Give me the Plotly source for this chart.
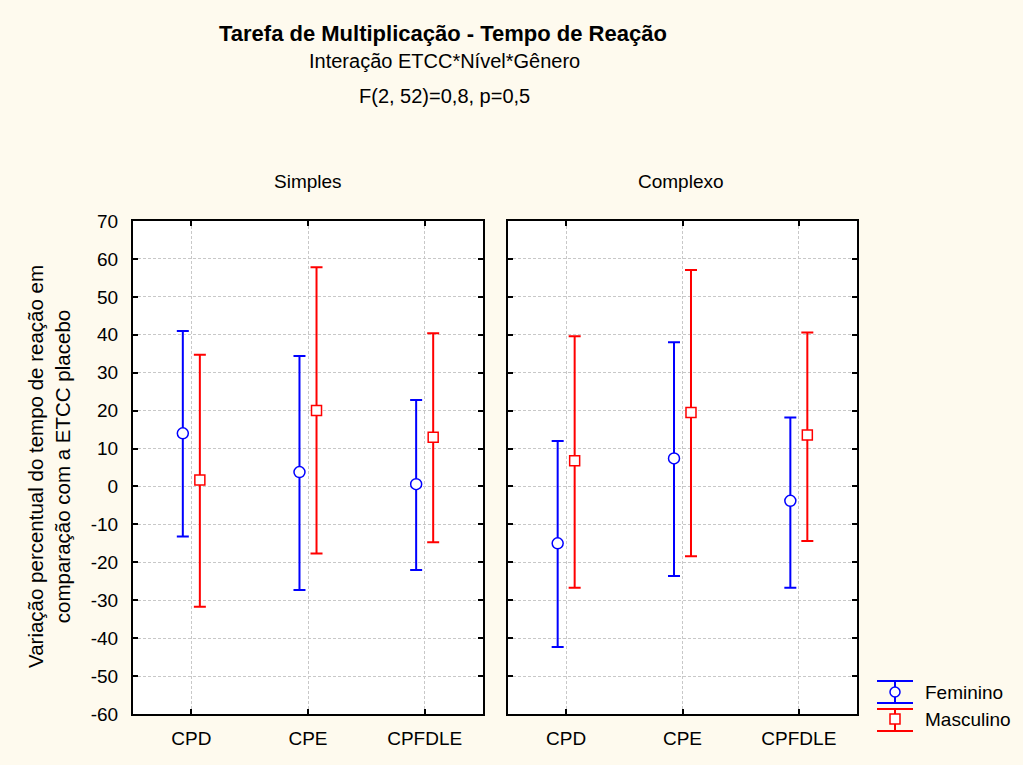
import plotly.graph_objects as go

categories = ["CPD", "CPE", "CPFDLE"]
levels = ["Simples", "Complexo"]

# Simples
simples_fem_mean = [14.0, 3.8, 0.6]
simples_fem_upper = [41.0, 34.4, 22.8]
simples_fem_lower = [-13.2, -27.3, -22.0]
simples_mas_mean = [1.7, 20.0, 13.0]
simples_mas_upper = [34.7, 57.8, 40.4]
simples_mas_lower = [-31.7, -17.7, -14.7]

# Complexo
complexo_fem_mean = [-15.0, 7.4, -3.8]
complexo_fem_upper = [12.0, 38.0, 18.2]
complexo_fem_lower = [-42.3, -23.6, -26.7]
complexo_mas_mean = [6.8, 19.5, 13.6]
complexo_mas_upper = [39.6, 57.1, 40.6]
complexo_mas_lower = [-26.7, -18.4, -14.4]

y_ticks = [-60, -50, -40, -30, -20, -10, 0, 10, 20, 30, 40, 50, 60, 70]
y_tick_labels = ["-60", "-50", "-40", "-30", "-20", "-10", "0",
                 "10", "20", "30", "40", "50", "60", "70"]

W, H = 1023, 765
L, R, T, B = 133, 857, 221, 714
PW, PH = R - L, B - T

BLUE = "#0000FF"
RED = "#FF0000"
BG = "#FEFAEE"
FONT = "Liberation Sans, Arial, sans-serif"

def px(x):
    return (x - L) / PW

def py(y):
    return (B - y) / PH

fig = go.Figure()

panels = [
    ("x", "y", simples_fem_mean, simples_fem_upper, simples_fem_lower,
     simples_mas_mean, simples_mas_upper, simples_mas_lower),
    ("x2", "y2", complexo_fem_mean, complexo_fem_upper, complexo_fem_lower,
     complexo_mas_mean, complexo_mas_upper, complexo_mas_lower),
]

off = 0.073
for xa, ya, fm, fu, fl, mm, mu, ml in panels:
    xs = list(range(len(categories)))
    fig.add_trace(go.Scatter(
        x=[i - off for i in xs], y=fm, xaxis=xa, yaxis=ya, mode="markers",
        name="Feminino", showlegend=False,
        marker=dict(symbol="circle", size=11, color="white",
                    line=dict(color=BLUE, width=1.5)),
        error_y=dict(type="data", symmetric=False,
                     array=[u - m for u, m in zip(fu, fm)],
                     arrayminus=[m - l for l, m in zip(fl, fm)],
                     color=BLUE, thickness=2, width=6),
    ))
    fig.add_trace(go.Scatter(
        x=[i + off for i in xs], y=mm, xaxis=xa, yaxis=ya, mode="markers",
        name="Masculino", showlegend=False,
        marker=dict(symbol="square", size=10, color="white",
                    line=dict(color=RED, width=1.5)),
        error_y=dict(type="data", symmetric=False,
                     array=[u - m for u, m in zip(mu, mm)],
                     arrayminus=[m - l for l, m in zip(ml, mm)],
                     color=RED, thickness=2, width=6),
    ))

d1 = [0, (483 - L) / PW]
d2 = [(508 - L) / PW, 1]

GRID = "#C8C8C8"
xcommon = dict(
    range=[-0.5, 2.5], tickmode="array", tickvals=[0, 1, 2], ticktext=categories,
    ticks="inside", ticklen=5, tickwidth=2, tickcolor="black",
    showline=True, linecolor="black", linewidth=2, mirror="ticks",
    showgrid=True, gridcolor=GRID, griddash="3px,2px", gridwidth=1,
    zeroline=False, tickfont=dict(family=FONT, size=19, color="black"),
    ticklabelstandoff=6,
)
ycommon = dict(
    range=[-60, 70], tickmode="array", tickvals=y_ticks, ticktext=y_tick_labels,
    ticks="inside", ticklen=5, tickwidth=2, tickcolor="black",
    showline=True, linecolor="black", linewidth=2, mirror="ticks",
    showgrid=True, gridcolor=GRID, griddash="3px,2px", gridwidth=1,
    zeroline=False, tickfont=dict(family=FONT, size=19, color="black"),
    ticklabelstandoff=9,
)

fig.update_layout(
    width=W, height=H,
    margin=dict(l=L, r=W - R, t=T, b=H - B),
    paper_bgcolor=BG, plot_bgcolor="white",
    showlegend=False,
    xaxis=dict(domain=d1, **xcommon),
    xaxis2=dict(domain=d2, anchor="y2", **xcommon),
    yaxis=dict(anchor="x", **ycommon),
    yaxis2=dict(anchor="x2", matches="y", showticklabels=False, **ycommon),
)

ann = []
ann.append(dict(text="<b>Tarefa de Multiplicação - Tempo de Reação</b>", x=px(443), y=py(33),
                font=dict(family=FONT, size=22, color="black")))
ann.append(dict(text="Interação ETCC*Nível*Gênero", x=px(444), y=py(61),
                font=dict(family=FONT, size=20, color="black")))
ann.append(dict(text="F(2, 52)=0,8, p=0,5", x=px(444), y=py(96),
                font=dict(family=FONT, size=20, color="black")))
ann.append(dict(text=levels[0], x=px(308), y=py(182),
                font=dict(family=FONT, size=19, color="black")))
ann.append(dict(text=levels[1], x=px(681), y=py(182),
                font=dict(family=FONT, size=19, color="black")))
ann.append(dict(text="Variação percentual do tempo de reação em<br>comparação com a ETCC placebo",
                x=px(49), y=py(467), textangle=-90,
                font=dict(family=FONT, size=20.5, color="black")))
# legend labels
ann.append(dict(text="Feminino", x=px(923), y=py(692), xanchor="left",
                font=dict(family=FONT, size=19, color="black")))
ann.append(dict(text="Masculino", x=px(923), y=py(719), xanchor="left",
                font=dict(family=FONT, size=19, color="black")))
for a in ann:
    a.setdefault("xanchor", "center")
    a.update(xref="paper", yref="paper", yanchor="middle", showarrow=False)
fig.update_layout(annotations=ann)

# legend glyphs
shapes = []
for col, ytop, ybot in [(BLUE, 681, 703), (RED, 709, 731)]:
    shapes.append(dict(type="line", x0=px(877), x1=px(913), y0=py(ytop), y1=py(ytop),
                       line=dict(color=col, width=2)))
    shapes.append(dict(type="line", x0=px(877), x1=px(913), y0=py(ybot), y1=py(ybot),
                       line=dict(color=col, width=2)))
    shapes.append(dict(type="line", x0=px(895), x1=px(895), y0=py(ytop), y1=py(ybot),
                       line=dict(color=col, width=2)))
shapes.append(dict(type="circle", x0=px(890), x1=px(900), y0=py(687), y1=py(697),
                   fillcolor="white", line=dict(color=BLUE, width=1.5)))
shapes.append(dict(type="rect", x0=px(890), x1=px(900), y0=py(714), y1=py(724),
                   fillcolor="white", line=dict(color=RED, width=1.5)))
for s in shapes:
    s.update(xref="paper", yref="paper", layer="above")
fig.update_layout(shapes=shapes)

fig.write_html(
    "out.html",
    config={"displayModeBar": False},
    post_script="document.body.style.margin='0px';document.body.style.overflow='hidden';"
                "document.body.style.background='" + BG + "';",
)
